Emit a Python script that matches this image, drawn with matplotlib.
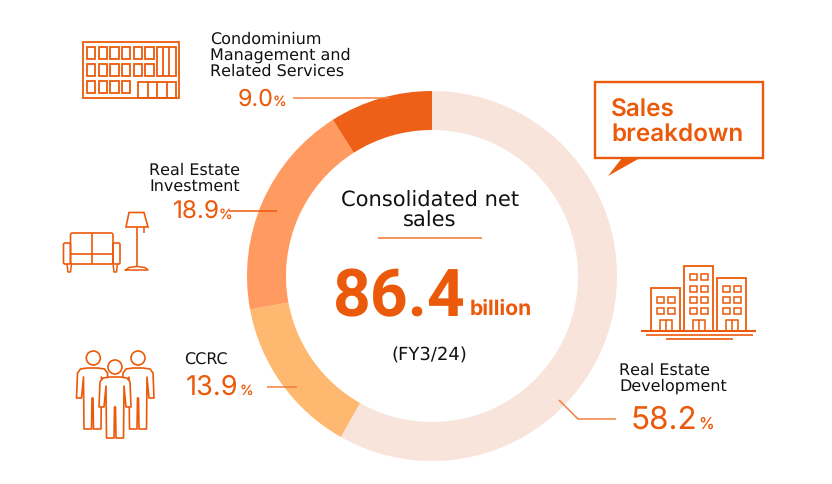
import matplotlib
matplotlib.use("Agg")
import matplotlib.pyplot as plt
from matplotlib.patches import Rectangle, Circle, Polygon, FancyBboxPatch

plt.rcParams['font.family'] = ['Inter', 'DejaVu Sans']
plt.rcParams['text.hinting'] = 'no_hinting'
plt.rcParams['text.hinting_factor'] = 1

segments = ["Real Estate Development", "CCRC", "Real Estate Investment",
            "Condominium Management and Related Services"]
shares = [58.2, 13.9, 18.9, 9.0]
seg_colors = ["#F9E4DC", "#FFB870", "#FF9A60", "#EE6018"]

orange = "#EB5A0A"
soft = "#F2803E"
dark = "#111111"
W, H = 832, 484

fig = plt.figure(figsize=(W / 100, H / 100), dpi=100)

# page axes in pixel coordinates, for labels and icons
ax = fig.add_axes([0, 0, 1, 1])
ax.set_xlim(0, W)
ax.set_ylim(H, 0)
ax.axis("off")

# donut
cx, cy, R = 432, 276, 185
pie_ax = fig.add_axes([(cx - R) / W, 1 - (cy + R) / H, 2 * R / W, 2 * R / H])
pie_ax.pie(shares, colors=seg_colors, startangle=90, counterclock=False, radius=1,
           wedgeprops=dict(width=39 / R))
pie_ax.set_xlim(-1, 1)
pie_ax.set_ylim(-1, 1)
pie_ax.set_zorder(0)
ax.set_zorder(1)
ax.patch.set_alpha(0)


def line(xs, ys, lw=1.3, c=orange, **kw):
    ax.plot(xs, ys, color=c, lw=lw, solid_capstyle="butt", **kw)


def box(x, y, w, h, lw=1.3, c=orange, **kw):
    ax.add_patch(Rectangle((x, y), w, h, fill=False, ec=c, lw=lw, **kw))


def label(x, y, s, size=11.2, c=dark, ha="left", weight="normal", family="DejaVu Sans", **kw):
    ax.text(x, y, s, fontsize=size, color=c, ha=ha, va="center", fontweight=weight,
            family=family, **kw)


def value(x, y, s, size, px, py, psize=10):
    ax.text(x, y, s, fontsize=size, color=orange, va="baseline", family="Inter")
    ax.text(px, py, "%", fontsize=psize, color=orange, va="baseline", family="Inter")


# centre text
label(430, 201, "Consolidated net", 14.8, ha="center")
label(430, 221, "sales", 14.8, ha="center")
line([378, 482], [238, 238], lw=1.2, c=soft)
label(399, 298, "86.4", 47.5, c=orange, ha="center", weight="bold", family="Roboto")
label(501, 309, "billion", 15.2, c=orange, ha="center", weight="bold", family="Inter")
label(429, 356, "(FY3/24)", 12.8, ha="center")

# callout
ax.add_patch(Polygon([(608, 176), (640, 158), (622, 158)], fc=orange, ec="none"))
box(595, 82, 168, 76, lw=1.7)
label(611, 110, "Sales", 17.5, c=orange, weight="semibold", family="Inter")
label(611, 134, "breakdown", 17.5, c=orange, weight="semibold", family="Inter")

# segment labels
label(210, 39, "Condominium")
label(210, 55, "Management and")
label(210, 71, "Related Services")
value(238, 106, "9.0", 16.8, 272.5, 106)
line([293, 390], [98, 98], lw=1.1, c=soft)

label(149, 170, "Real Estate")
label(149, 186, "Investment")
value(173, 219, "18.9", 17.5, 218.5, 219)
line([229, 277], [211, 211], lw=1.1)

label(184, 360, "CCRC")
value(186, 395, "13.9", 19.6, 240, 395)
line([267, 297], [387, 387], lw=1.1, c=soft)

label(619, 370, "Real Estate")
label(619, 386, "Development")
value(631, 429, "58.2", 22.6, 698, 429, psize=11.5)
line([559, 578, 616], [400, 419, 419], lw=1.1, c=soft)

# condominium icon
box(82.5, 42, 96.5, 56)
for col in range(6):
    for row in range(2):
        box(87 + col * 11.67, 47.3 + row * 17, 8.3, 12)
for col in range(4):
    box(87 + col * 11.67, 81, 8.3, 12)
box(156.7, 47.3, 19, 28.7)
line([162.7, 162.7], [47.3, 76])
line([169.3, 169.3], [47.3, 76])
box(138.3, 82.3, 37.4, 15.7)
for x in (147.7, 157.3, 166.7):
    line([x, x], [82.3, 98])

# sofa and lamp icon
ax.add_patch(FancyBboxPatch((70.5, 233), 42.5, 31, boxstyle="round,pad=0,rounding_size=2",
                            fill=False, ec=orange, lw=1.2))
for arm_x in (63.5, 113):
    ax.add_patch(FancyBboxPatch((arm_x, 243), 7, 21, boxstyle="round,pad=0,rounding_size=1.5",
                                fill=False, ec=orange, lw=1.2))
line([70.5, 113], [254, 254], lw=1.2)
line([92, 92], [233, 264], lw=1.2)
line([67, 68, 70.5, 71.5], [264, 272, 272, 264], lw=1.1)
line([113, 114, 116.5, 117.5], [264, 272, 272, 264], lw=1.1)
ax.add_patch(Polygon([(129, 212.5), (144, 212.5), (148, 227), (126, 227)],
                     fill=False, ec=orange, lw=1.2))
line([137, 137], [227, 267], lw=1.2)
line([143.5, 143.5], [227, 233], lw=1.1)
ax.plot([125.5, 129, 137, 145, 148, 125.5], [270, 267.5, 266.5, 267.5, 270, 270],
        color=orange, lw=1.1)

# people icon
for hx, hy, bx, top, bot, z in [(93.3, 358, 92.5, 368, 429, 2), (138, 358, 138, 368, 429, 2),
                                (115, 367, 115, 377, 438, 2.5)]:
    ax.add_patch(Circle((hx, hy), 7, fill=False, ec=orange, lw=1.2, zorder=3))
    xs = [bx - 5, bx - 12, bx - 15, bx - 16, bx - 11, bx - 9, bx - 8.5, bx - 1, bx - 0.5,
          bx + 0.5, bx + 1, bx + 8.5, bx + 9, bx + 11, bx + 16, bx + 15, bx + 12, bx + 5]
    ys = [top, top + 1, top + 5, top + 30, top + 30, top + 9, bot, bot, top + 30,
          top + 30, bot, bot, top + 9, top + 30, top + 30, top + 5, top + 1, top]
    ax.add_patch(Polygon(list(zip(xs, ys)), closed=True, fc="white", ec=orange, lw=1.2,
                         joinstyle="round", zorder=z))

# buildings icon
for bx, bw, top, wins in [(651, 29, 288, (296.7, 308.3)),
                          (684.3, 29, 266, (274, 285.7, 296.7, 308.3)),
                          (717.3, 28.7, 278, (285.7, 296.7, 308.3))]:
    box(bx, top, bw, 330.7 - top, lw=1.3)
    for wy in wins:
        box(bx + 6, wy, 6.5, 6, lw=1.1)
        box(bx + 17, wy, 6.5, 6, lw=1.1)
    box(bx + 8.5, 320, 12, 10.7, lw=1.1)
    line([bx + 14.5, bx + 14.5], [320, 330.7], lw=1.1)
line([641, 756], [330.7, 330.7], lw=1.5)
line([646, 753], [335, 335], lw=1.2)
line([666, 733], [339, 339], lw=1.2)

fig.savefig("out.png", dpi=100, facecolor="white")
